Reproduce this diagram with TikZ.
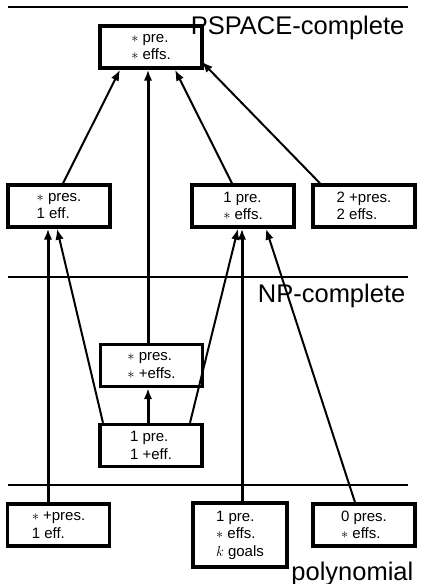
\documentclass[tikz,border=0pt]{standalone}
\usepackage{fontspec}
\setmainfont{Liberation Sans}
\usetikzlibrary{arrows.meta}

\begin{document}
\begin{tikzpicture}[x=1pt,y=-1pt,every node/.style={box},
				box/.style={draw,rectangle,line width=3.4pt,minimum width=102pt,minimum height=42pt,
					align=left,inner sep=2pt,font=\fontsize{15}{17.5}\selectfont},
				cls/.style={draw=none,minimum size=0pt,inner sep=0pt,font=\fontsize{25.5}{28}\selectfont},
				link/.style={line width=2pt,-{Latex[length=11pt,width=8.5pt]}},
				main/.style={line width=3pt,-{Latex[length=11pt,width=8.5pt]}},
				sep/.style={line width=2.5pt}]
				\useasboundingbox (0,0) rectangle (421,584);
				\node (TOP)   at (151,47)      {$\ast$ pre.\\$\ast$ effs.};
				\node (LEFT)  at (59,206)      {$\ast$ pres.\\1 eff.};
				\node (MID)   at (243,206)     {1 pre.\\$\ast$ effs.};
				\node (RIGHT) at (364,206)     {2 +pres.\\2 effs.};
				\node (NPU)   at (151.5,365.5) {$\ast$ pres.\\$\ast$ +effs.};
				\node (NPL)   at (151,445.5)   {1 pre.\\1 +eff.};
				\node (BL)    at (58.5,525)    {$\ast$ +pres.\\1 eff.};
				\node (BM)    [minimum width=94pt,minimum height=64pt] at (240,535) {1 pre.\\$\ast$ effs.\\$k$ goals};
				\node (BR)    at (364,525)     {0 pres.\\$\ast$ effs.};
				\node (PSPACE) [cls,anchor=base east] at (406,34)  {PSPACE-complete};
				\node (NP)     [cls,anchor=base east] at (407,302) {NP-complete};
				\node (POLY)   [cls,anchor=base east] at (415,580) {polynomial};
				
				\draw[sep] (8,7) -- (408,7) (8,277) -- (408,277) (8,485) -- (408,485);
				\draw[link] ([xshift=4pt]LEFT.north) -- ([xshift=-31pt]TOP.south);
				\draw[main] ([xshift=-3.5pt]NPU.north) -- ([xshift=-3pt]TOP.south);
				\draw[link] ([xshift=-11pt]MID.north) -- ([xshift=24pt]TOP.south);
				\draw[link] ([xshift=-44pt]RIGHT.north) -- ([xshift=-2pt,yshift=8pt]TOP.south east);
				\draw[main] ([xshift=-10.5pt]BL.north) -- ([xshift=-11pt]LEFT.south);
				\draw[link] ([xshift=-48pt]NPL.north) -- ([xshift=-2pt]LEFT.south);
				\draw[link] ([xshift=39pt]NPL.north) -- ([xshift=-5pt]MID.south);
				\draw[main] ([xshift=2pt]BM.north) -- ([xshift=-1pt]MID.south);
				\draw[link] ([xshift=-9pt]BR.north) -- ([xshift=23pt]MID.south);
				\draw[main] ([xshift=-3pt]NPL.north) -- ([xshift=-3.5pt]NPU.south);
			\end{tikzpicture}
\end{document}
